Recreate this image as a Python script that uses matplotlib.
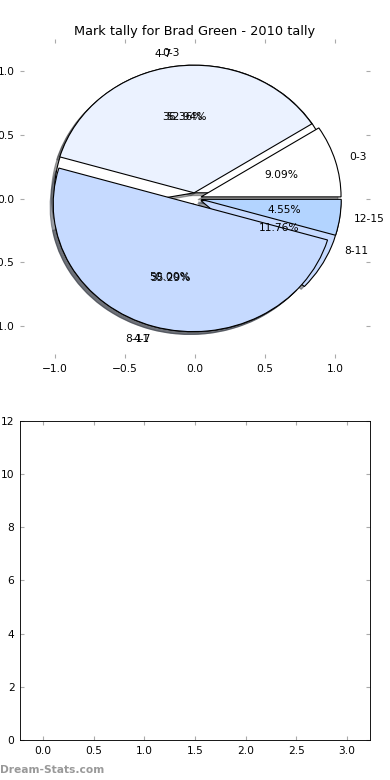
import matplotlib
matplotlib.use("Agg")
import matplotlib.pyplot as plt
import numpy as np

# tally of marks per bracket, two pies drawn onto the same axes
labels_a = ['0-3', '4-7', '8-11', '12-15']
marks_a = [2, 8, 11, 1]

labels_b = ['0-3', '4-7', '8-11']
marks_b = [9, 6, 2]

colors = ['#FFFFFF', '#EBF2FF', '#C6DAFF', '#B3D4FF']

pie_ticks = [-1.0, -0.5, 0.0, 0.5, 1.0]
bottom_xticks = [0.0, 0.5, 1.0, 1.5, 2.0, 2.5, 3.0]
bottom_yticks = [0, 2, 4, 6, 8, 10, 12]

fs = 9.6

fig = plt.figure(figsize=(4.875, 9.75), dpi=80)

ax1 = fig.add_axes([0.0513, 0.541, 0.8974, 0.409])
ax2 = fig.add_axes([0.0513, 0.0513, 0.8974, 0.409])

wprops = {'edgecolor': 'black', 'linewidth': 1.0}

ax1.pie(marks_b, labels=labels_b, colors=colors[:len(marks_b)],
        explode=[0.045] * len(marks_b), autopct='%1.2f%%', shadow=True,
        wedgeprops=wprops, frame=True, textprops={'fontsize': fs})
ax1.pie(marks_a, labels=labels_a, colors=colors[:len(marks_a)],
        explode=[0.045] * len(marks_a), autopct='%1.2f%%', shadow=True,
        wedgeprops=wprops, frame=True, textprops={'fontsize': fs})

ax1.set_aspect('auto')
ax1.set_xlim(-1.25, 1.25)
ax1.set_ylim(-1.25, 1.25)
ax1.set_xticks(pie_ticks)
ax1.set_yticks(pie_ticks)
ax1.spines[['left', 'right', 'top', 'bottom']].set_visible(False)
ax1.set_title('Mark tally for Brad Green - 2010 tally', fontsize=11.6, pad=4)

ax2.set_xlim(-0.225, 3.225)
ax2.set_ylim(0, 12)
ax2.set_xticks(bottom_xticks)
ax2.set_yticks(bottom_yticks)

for ax in (ax1, ax2):
    ax.tick_params(direction='in', length=4, width=1, color='#aaaaaa',
                   top=True, right=True, labelsize=fs, pad=5)

fig.text(0.0, 0.0128, 'Dream-Stats.com', fontsize=9.6, color='#999999',
         fontweight='bold', ha='left', va='center')

fig.savefig('out.png', dpi=80)
